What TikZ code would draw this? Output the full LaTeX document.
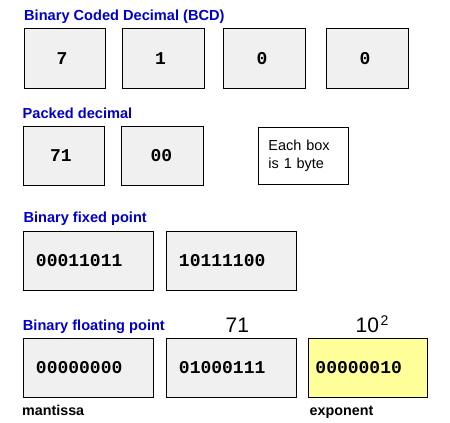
\documentclass[tikz,border=0pt]{standalone}
\usepackage{fontspec}
\setmainfont{Liberation Sans}
\setmonofont{Liberation Mono}
\definecolor{titleblue}{RGB}{0,0,204}
\definecolor{boxgray}{RGB}{240,240,240}
\definecolor{boxyellow}{RGB}{255,255,153}
\tikzset{
  bytebox/.style={draw=black, line width=0.9pt, fill=boxgray, anchor=north west,
    inner sep=0pt, font=\ttfamily\bfseries\fontsize{18}{18}\selectfont},
  digitbox/.style={bytebox, minimum width=82pt, minimum height=60pt},
  bitbox/.style={bytebox, inner xsep=12.5pt, text width=105pt, align=left, minimum height=59pt},
  title/.style={anchor=base west, inner sep=0pt, text=titleblue, font=\bfseries\fontsize{14.6}{16}\selectfont},
  caption/.style={anchor=base west, inner sep=0pt, font=\bfseries\fontsize{14.3}{16}\selectfont},
  bignum/.style={anchor=base west, inner sep=0pt, font=\fontsize{21}{24}\selectfont},
  notebox/.style={draw=black, line width=0.9pt, fill=white, anchor=north west, inner xsep=10pt,
    inner ysep=0pt, text width=70pt, align=left, minimum height=57pt,
    font=\fontsize{14.5}{18.5}\selectfont},
}
\begin{document}
\begin{tikzpicture}[x=1pt,y=-1pt]
\useasboundingbox[fill=white] (0,0) rectangle (450,423);

% BCD
\node[title] (t1) at (24,20.5) {Binary Coded Decimal (BCD)};
\node[digitbox, minimum width=81pt] (b1) at (24,28) {7\kern6pt};
\node[digitbox] (b2) at (122,28) {1\kern6pt};
\node[digitbox] (b3) at (223,28) {0\kern5pt};
\node[digitbox] (b4) at (326,28) {0\kern5pt};

% Packed decimal
\node[title] (t2) at (22.5,118.3) {Packed decimal};
\node[digitbox, minimum width=81pt, minimum height=59pt] (p1) at (23,126) {71\kern6pt};
\node[digitbox, minimum height=59pt] (p2) at (121,126) {00\kern2pt};
\node[notebox] (note) at (258,127) {Each box\\is 1 byte};

% Binary fixed point
\node[title] (t3) at (23.3,222.7) {Binary fixed point};
\node[bitbox] (f1) at (23,231) {00011011};
\node[bitbox] (f2) at (166,231) {10111100};

% Binary floating point
\node[title] (t4) at (22.7,330.7) {Binary floating point};
\node[bignum] (n71) at (225.5,332) {71};
\node[bignum] (n10) at (355.5,332) {10\raisebox{7pt}{\fontsize{14}{14}\selectfont\kern1.5pt 2}};
\node[bitbox] (g1) at (23,338) {00000000};
\node[bitbox] (g2) at (166,338) {01000111};
\node[bitbox, fill=boxyellow, inner xsep=7pt, text width=105pt] (g3) at (308,338) {00000010};
\node[caption] (mant) at (22,415) {mantissa};
\node[caption] (expo) at (309.5,415) {exponent};
\end{tikzpicture}
\end{document}
